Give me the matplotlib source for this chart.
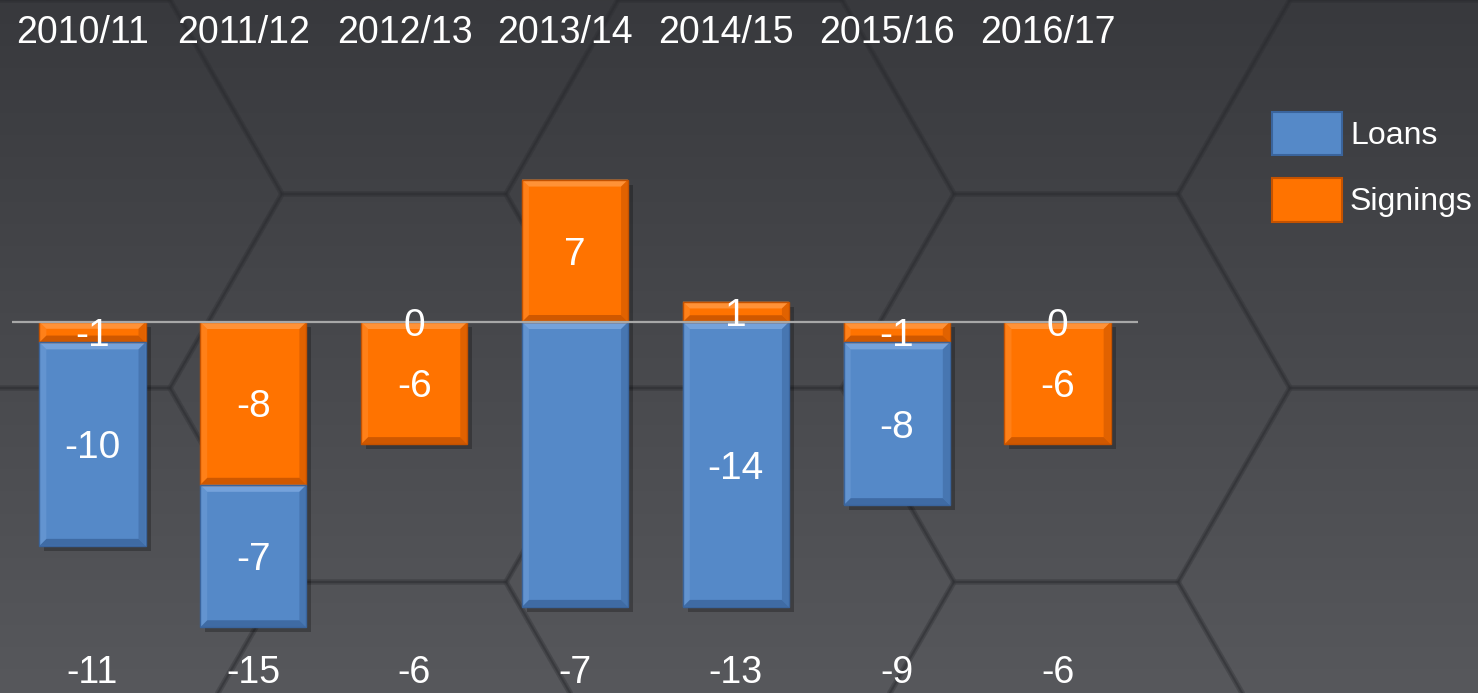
import numpy as np
import matplotlib
matplotlib.use("Agg")
import matplotlib.pyplot as plt
from matplotlib.patches import Polygon, Rectangle, Patch

plt.rcParams['font.family'] = ['Liberation Sans', 'DejaVu Sans']

# ---- data ----
seasons = ["2010/11", "2011/12", "2012/13", "2013/14", "2014/15", "2015/16", "2016/17"]
signings = [-1, -8, -6, 7, 1, -1, -6]
loans = [-10, -7, 0, -14, -14, -8, 0]
totals = [-11, -15, -6, -7, -13, -9, -6]
loan_label_shown = [True, True, True, False, True, True, True]

W, H = 1478, 693
fig = plt.figure(figsize=(W / 100, H / 100), dpi=100)

# ---- background (gradient + faint hexagon tiling) ----
bg = fig.add_axes([0, 0, 1, 1])
bg.set_xlim(0, W)
bg.set_ylim(H, 0)
bg.axis('off')
grad = np.linspace(0, 1, 256).reshape(-1, 1)
top = np.array([0x38, 0x39, 0x3d]) / 255
bot = np.array([0x57, 0x58, 0x5c]) / 255
img = top + (bot - top) * grad[:, :, None]
bg.imshow(img, extent=[0, W, H, 0], aspect='auto', zorder=0)
s = 224
for i in range(-5, 3):
    for j in range(-3, 3):
        cx = 1066 + 1.5 * s * i
        cy = 388 + np.sqrt(3) * s * j + (np.sqrt(3) / 2 * s if i % 2 else 0)
        ang = np.deg2rad(np.arange(0, 360, 60))
        pts = np.c_[cx + s * np.cos(ang), cy + s * np.sin(ang)]
        bg.add_patch(Polygon(pts, closed=True, fill=False, edgecolor='#2a2b2f',
                             lw=4, alpha=0.18, zorder=1, joinstyle='round'))
        bg.add_patch(Polygon(pts, closed=True, fill=False, edgecolor='#2a2b2f',
                             lw=1.5, alpha=0.25, zorder=1, joinstyle='round'))

# ---- main axes ----
px_x = 1126 / 7.0
px_y = 20.35
ax = fig.add_axes([12 / W, 0, 1126 / W, 1])
ax.set_xlim(-0.5, 6.5)
ax.set_ylim(-(H - 322) / px_y, 322 / px_y)
ax.axis('off')
ax.patch.set_alpha(0)

x = np.arange(len(seasons))
sig = np.array(signings, float)
lo = np.array(loans, float)
# stacking: signings from zero, loans after signings on the negative side
loan_base = np.where(sig < 0, sig, 0.0)

blue = '#5589c8'
orange = '#ff7300'
width = 0.66

def draw_bars(bars, face, light, dark):
    bx = 7 / px_x
    for p in bars:
        x0, y0, w, h = p.get_x(), p.get_y(), p.get_width(), p.get_height()
        if h == 0:
            continue
        yb, yt = min(y0, y0 + h), max(y0, y0 + h)
        hh = yt - yb
        by = min(7 / px_y, hh / 3)
        # shadow
        ax.add_patch(Rectangle((x0 + 5 / px_x, yb - 5 / px_y), w, hh, facecolor='black',
                               alpha=0.25, lw=0, zorder=1))
        xl, xr = x0, x0 + w
        bevels = [
            ([(xl, yt), (xr, yt), (xr - bx, yt - by), (xl + bx, yt - by)], light, 0.8),
            ([(xl, yb), (xr, yb), (xr - bx, yb + by), (xl + bx, yb + by)], dark, 0.8),
            ([(xl, yb), (xl, yt), (xl + bx, yt - by), (xl + bx, yb + by)], light, 0.35),
            ([(xr, yb), (xr, yt), (xr - bx, yt - by), (xr - bx, yb + by)], dark, 0.5),
        ]
        for pts, c, a in bevels:
            ax.add_patch(Polygon(pts, closed=True, facecolor=c, alpha=a, lw=0, zorder=3))
        ax.add_patch(Rectangle((xl, yb), w, hh, fill=False, edgecolor=dark, lw=1.0, zorder=3.5))

b_sig = ax.bar(x, sig, width=width, color=orange, zorder=2, label='Signings')
b_lo = ax.bar(x, lo, width=width, bottom=loan_base, color=blue, zorder=2, label='Loans')
draw_bars(b_sig, orange, '#ff9a45', '#c45200')
draw_bars(b_lo, blue, '#7ea9e0', '#3a649c')

ax.plot([-0.5, 6.5], [0, 0], color='#a8a8a8', lw=1.6, zorder=5)

fs_bar = 28
fs = 27
dy = 0.2
for i in range(len(seasons)):
    # signings label
    ax.text(x[i], sig[i] / 2 - dy, f"{signings[i]:g}", ha='center', va='center',
            color='white', fontsize=fs_bar, zorder=6)
    # loans label
    if loan_label_shown[i]:
        yl = -dy if lo[i] == 0 else loan_base[i] + lo[i] / 2 - dy
        ax.text(x[i], yl, f"{loans[i]:g}", ha='center', va='center',
                color='white', fontsize=fs_bar, zorder=6)
    ax.text(x[i] - 0.06, 14.2, seasons[i], ha='center', va='center',
            color='white', fontsize=fs, zorder=6)
    ax.text(x[i], -17.25, f"{totals[i]:g}", ha='center', va='center',
            color='white', fontsize=fs, zorder=6)

# ---- legend ----
fsl = 23
fpx = fsl * 100 / 72
handles = [Patch(facecolor=blue, edgecolor='#3a649c', lw=1.5, label='Loans'),
           Patch(facecolor=orange, edgecolor='#c45200', lw=1.5, label='Signings')]
fig.legend(handles=handles, loc='upper left', bbox_to_anchor=(1272 / W, 1 - 112 / H),
           frameon=False, fontsize=fsl, handlelength=70 / fpx,
           handleheight=45 * (45 / 37) / fpx, labelspacing=0.72, handletextpad=0.25,
           borderpad=0, borderaxespad=0, labelcolor='white')

fig.savefig('out.png', dpi=100)
